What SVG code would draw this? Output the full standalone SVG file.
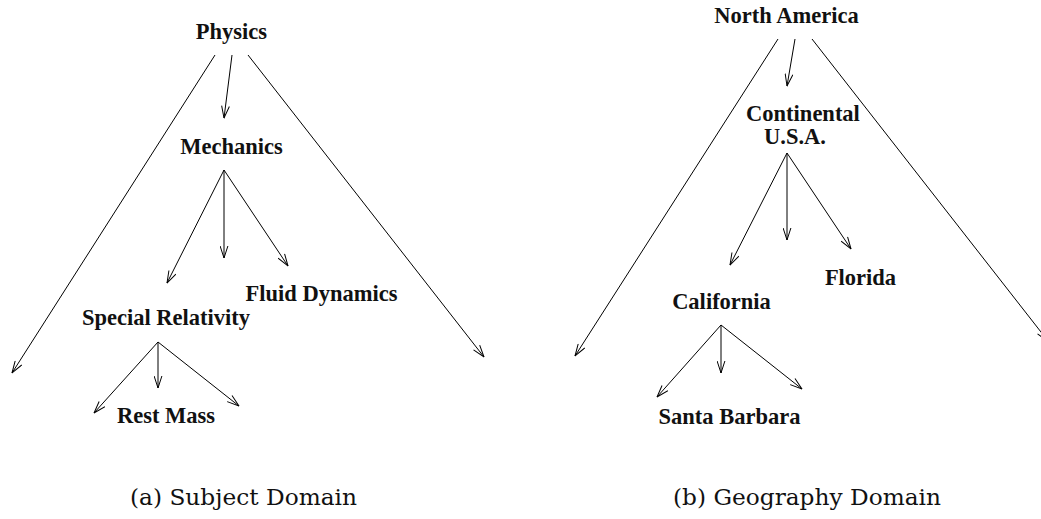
<svg xmlns="http://www.w3.org/2000/svg" width="1041" height="519" viewBox="0 0 1041 519">
  <defs>
    <marker id="vee" viewBox="0 0 13 9" refX="12.5" refY="4.5" markerWidth="13" markerHeight="9" markerUnits="userSpaceOnUse" orient="auto">
      <path d="M0.5,0.6 L12.5,4.5 L0.5,8.4" fill="none" stroke="#000" stroke-width="1"/>
    </marker>
    <style>
      .node { font-family: "Liberation Serif", "Times New Roman", serif; font-weight: bold; font-size: 22.5px; fill: #111; text-anchor: middle; }
      .cap { font-family: "DejaVu Serif", "Liberation Serif", serif; font-size: 22.5px; fill: #111; }
      .edge { stroke: #000; stroke-width: 1; fill: none; marker-end: url(#vee); }
    </style>
  </defs>
  <rect width="1041" height="519" fill="#fff"/>

  <!-- (a) subject hierarchy -->
  <g id="edges-subject">
    <line class="edge" x1="215" y1="55" x2="12" y2="373"/>
    <line class="edge" x1="232" y1="55" x2="224" y2="118"/>
    <line class="edge" x1="248" y1="55" x2="484" y2="357"/>
    <line class="edge" x1="224" y1="170" x2="167" y2="283"/>
    <line class="edge" x1="224" y1="170" x2="224" y2="258"/>
    <line class="edge" x1="224" y1="170" x2="288" y2="266"/>
    <line class="edge" x1="158" y1="342" x2="94" y2="413"/>
    <line class="edge" x1="158" y1="342" x2="158" y2="388"/>
    <line class="edge" x1="158" y1="342" x2="239" y2="406"/>
  </g>
  <g id="physics"><text class="node" x="231.5" y="39">Physics</text></g>
  <g id="mechanics"><text class="node" x="231.5" y="154">Mechanics</text></g>
  <g id="fluid-dynamics"><text class="node" x="321.5" y="301">Fluid Dynamics</text></g>
  <g id="special-relativity"><text class="node" x="166" y="325">Special Relativity</text></g>
  <g id="rest-mass"><text class="node" x="166" y="423">Rest Mass</text></g>
  <text class="cap" x="130" y="505" textLength="227" lengthAdjust="spacingAndGlyphs">(a) Subject Domain</text>

  <!-- (b) geography hierarchy -->
  <g id="edges-geography">
    <line class="edge" x1="778" y1="39" x2="575" y2="356"/>
    <line class="edge" x1="795" y1="39" x2="787" y2="86"/>
    <line class="edge" x1="812" y1="39" x2="1048" y2="341"/>
    <line class="edge" x1="787" y1="153" x2="730" y2="265"/>
    <line class="edge" x1="787" y1="153" x2="787" y2="240"/>
    <line class="edge" x1="787" y1="153" x2="851" y2="249"/>
    <line class="edge" x1="721" y1="325" x2="657" y2="397"/>
    <line class="edge" x1="721" y1="325" x2="721" y2="373"/>
    <line class="edge" x1="721" y1="325" x2="802" y2="389"/>
  </g>
  <g id="north-america"><text class="node" x="786.5" y="23">North America</text></g>
  <g id="continental-usa">
    <text class="node" x="803" y="121">Continental</text>
    <text class="node" x="795" y="144">U.S.A.</text>
  </g>
  <g id="florida"><text class="node" x="860.5" y="285">Florida</text></g>
  <g id="california"><text class="node" x="721.5" y="309">California</text></g>
  <g id="santa-barbara"><text class="node" x="729.5" y="424">Santa Barbara</text></g>
  <text class="cap" x="673" y="505" textLength="268" lengthAdjust="spacingAndGlyphs">(b) Geography Domain</text>
</svg>
